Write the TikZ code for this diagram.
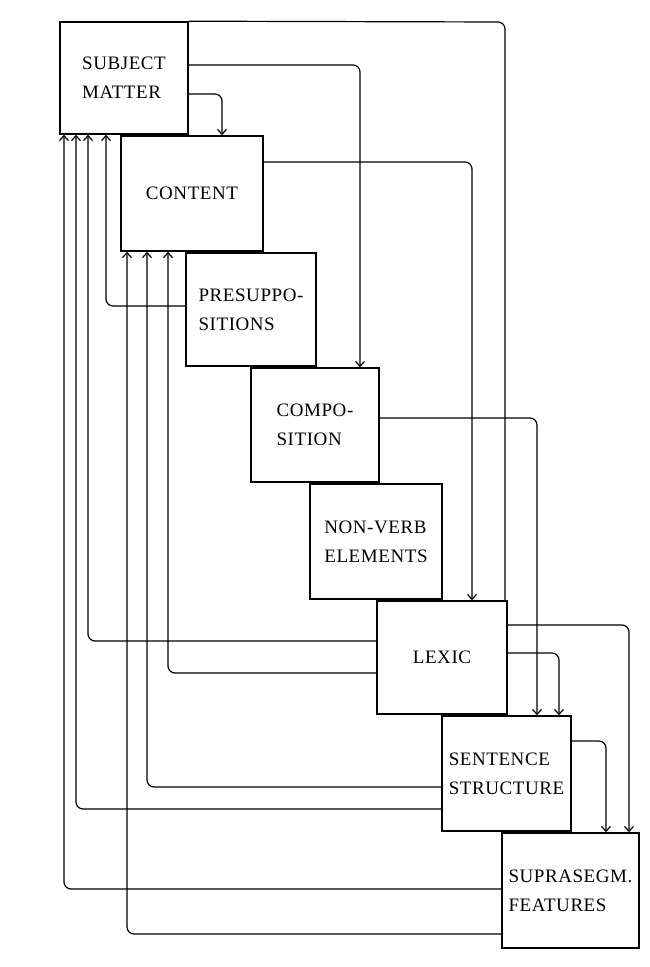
\documentclass[tikz,border=0pt]{standalone}
\usepackage{fontspec}
\setmainfont[LetterSpace=3]{Liberation Serif}
\usetikzlibrary{arrows.meta}
\begin{document}
\begin{tikzpicture}[x=1pt,y=-1pt,
  box/.style={draw,line width=1.6pt,inner sep=0pt,align=left,
    font=\fontsize{19}{29}\selectfont},
  conn/.style={line width=1.2pt,rounded corners=7pt},
  arr/.style={conn,-{Straight Barb[length=5pt,width=9pt]}}]
\useasboundingbox (0,0) rectangle (649,967);
% boxes
\node[box,minimum width=128pt,minimum height=112pt] (subj) at (124,78) {SUBJECT\\MATTER};
\node[box,minimum width=142pt,minimum height=115pt] (cont) at (192,193.5) {CONTENT};
\node[box,minimum width=130pt,minimum height=113pt] (pres) at (251,309.5) {PRESUPPO-\\SITIONS};
\node[box,minimum width=128pt,minimum height=114pt] (comp) at (315,425) {COMPO-\\SITION};
\node[box,minimum width=132pt,minimum height=115pt] (nonv) at (376,541.5) {NON-VERB\\ELEMENTS};
\node[box,minimum width=130pt,minimum height=113pt] (lex) at (442,657.5) {LEXIC};
\node[box,minimum width=129pt,minimum height=115pt] (sent) at (506.5,773.5) {SENTENCE\\STRUCTURE};
\node[box,minimum width=137pt,minimum height=115pt] (supr) at (570.5,890.5) {SUPRASEGM.\\FEATURES};
% forward connectors (right side)
\draw[conn] (subj.north east) -- (505,22) -- (lex.north -| 505,0);
\draw[arr] (subj.east |- 0,65) -- (360,65) -- (comp.north -| 360,0);
\draw[arr] (subj.east |- 0,94) -- (222,94) -- (cont.north -| 222,0);
\draw[arr] (cont.east |- 0,162) -- (472,162) -- (lex.north -| 472,0);
\draw[arr] (comp.east |- 0,418) -- (537,418) -- (sent.north -| 537,0);
\draw[arr] (lex.east |- 0,625) -- (629,625) -- (supr.north -| 629,0);
\draw[arr] (lex.east |- 0,653) -- (559,653) -- (sent.north -| 559,0);
\draw[arr] (sent.east |- 0,741) -- (606,741) -- (supr.north -| 606,0);
% feedback connectors (left side)
\draw[arr] (pres.west |- 0,306) -- (106,306) -- (subj.south -| 106,0);
\draw[arr] (lex.west |- 0,641) -- (88,641) -- (subj.south -| 88,0);
\draw[arr] (lex.west |- 0,673) -- (168,673) -- (cont.south -| 168,0);
\draw[arr] (sent.west |- 0,787) -- (147,787) -- (cont.south -| 147,0);
\draw[arr] (sent.west |- 0,809) -- (76,809) -- (subj.south -| 76,0);
\draw[arr] (supr.west |- 0,889) -- (64,889) -- (subj.south -| 64,0);
\draw[arr] (supr.west |- 0,934) -- (127,934) -- (cont.south -| 127,0);
\end{tikzpicture}
\end{document}
